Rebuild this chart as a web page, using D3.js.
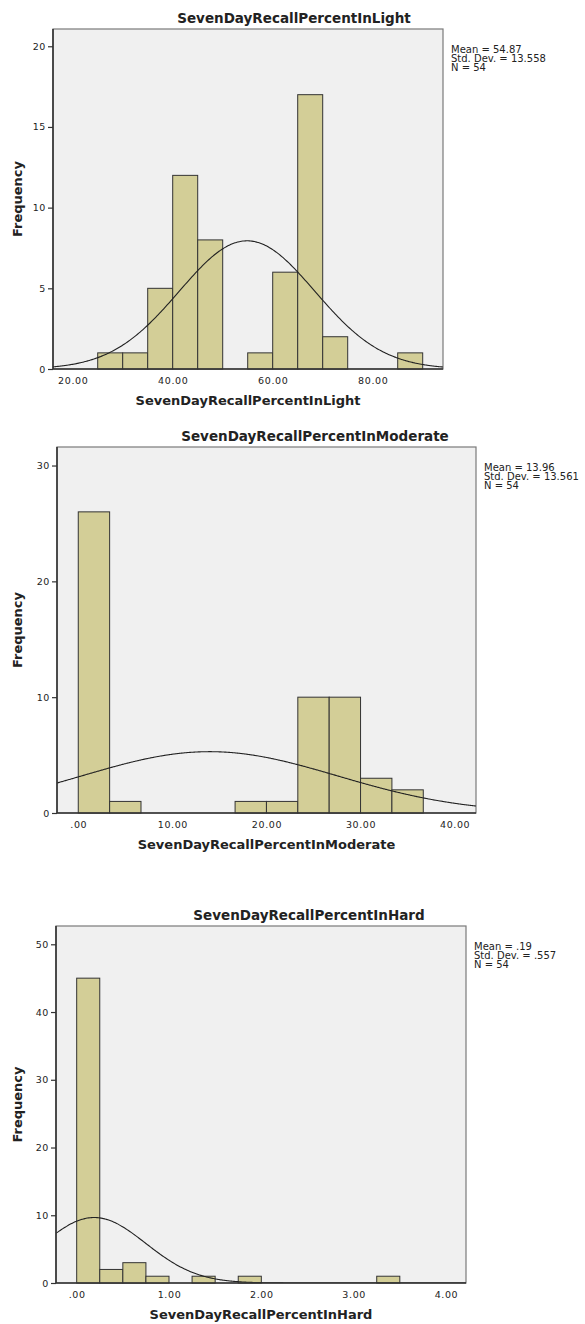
<!DOCTYPE html>
<html>
<head>
<meta charset="utf-8">
<script src="https://cdn.jsdelivr.net/npm/d3@7"></script>
<style>
  html, body { margin: 0; padding: 0; background: #fff; }
  svg { display: block; }
  text { font-family: "DejaVu Sans", sans-serif; fill: #222; }
</style>
</head>
<body>
<svg id="chart" width="585" height="1324"></svg>
<script>
// ─── Data ────────────────────────────────────────────────────────────────────
const variables = ['SevenDayRecallPercentInLight', 'SevenDayRecallPercentInModerate', 'SevenDayRecallPercentInHard'];

const lightBinStart = 25, lightBinWidth = 5;
const lightCounts = [1, 1, 5, 12, 8, 0, 1, 6, 17, 2, 0, 0, 1];

const moderateBinStart = 0, moderateBinWidth = 10 / 3;
const moderateCounts = [26, 1, 0, 0, 0, 1, 1, 10, 10, 3, 2];

const hardBinStart = 0, hardBinWidth = 0.25;
const hardCounts = [45, 2, 3, 1, 0, 1, 0, 1, 0, 0, 0, 0, 0, 1];

const means = [54.87, 13.96, 0.19];
const stdDevs = [13.558, 13.561, 0.557];
const nValues = [54, 54, 54];
const meanLabels = ['54.87', '13.96', '.19'];
const sdLabels = ['13.558', '13.561', '.557'];

const xTicks = [[20, 40, 60, 80], [0, 10, 20, 30, 40], [0, 1, 2, 3, 4]];
const yTicks = [[0, 5, 10, 15, 20], [0, 10, 20, 30], [0, 10, 20, 30, 40, 50]];

// ─── Layout (pixel frames + axis extents of each panel) ──────────────────────
const panels = [
  { box: { l: 53, t: 29, r: 443, b: 369 }, xDom: [16.06, 94.06], yMax: 21.07, titleX: 294,
    start: lightBinStart, width: lightBinWidth, counts: lightCounts },
  { box: { l: 57, t: 447, r: 476, b: 813 }, xDom: [-2.26, 42.27], yMax: 31.6, titleX: 315,
    start: moderateBinStart, width: moderateBinWidth, counts: moderateCounts },
  { box: { l: 56, t: 926, r: 466, b: 1283 }, xDom: [-0.224, 4.217], yMax: 52.7, titleX: 309,
    start: hardBinStart, width: hardBinWidth, counts: hardCounts }
];

const BAR_FILL = '#d3ce97';
const PLOT_BG = '#f0f0f0';

const svg = d3.select('#chart');

// SPSS-style number labels: 0.00 → ".00"
const fmt = v => d3.format('.2f')(v).replace(/^0\./, '.');

panels.forEach((p, i) => {
  const { l, t, r, b } = p.box;
  const x = d3.scaleLinear().domain(p.xDom).range([l, r]);
  const y = d3.scaleLinear().domain([0, p.yMax]).range([b, t]);
  const g = svg.append('g');

  // plot background + frame
  g.append('rect')
    .attr('x', l).attr('y', t).attr('width', r - l).attr('height', b - t)
    .attr('fill', PLOT_BG).attr('stroke', '#7a7a7a').attr('stroke-width', 1.2);

  const clipId = 'clip' + i;
  g.append('clipPath').attr('id', clipId)
    .append('rect').attr('x', l).attr('y', t).attr('width', r - l).attr('height', b - t);

  // bars
  const bins = p.counts.map((c, k) => ({ x0: p.start + k * p.width, x1: p.start + (k + 1) * p.width, c }))
    .filter(d => d.c > 0);
  g.append('g').selectAll('rect')
    .data(bins)
    .join('rect')
      .attr('x', d => x(d.x0))
      .attr('y', d => y(d.c))
      .attr('width', d => x(d.x1) - x(d.x0))
      .attr('height', d => y(0) - y(d.c))
      .attr('fill', BAR_FILL)
      .attr('stroke', '#333')
      .attr('stroke-width', 1);

  // fitted normal curve
  const mu = means[i], sd = stdDevs[i], n = nValues[i];
  const dens = v => n * p.width * Math.exp(-0.5 * ((v - mu) / sd) ** 2) / (sd * Math.sqrt(2 * Math.PI));
  const xs = d3.range(0, 301).map(k => p.xDom[0] + (p.xDom[1] - p.xDom[0]) * k / 300);
  g.append('path')
    .datum(xs)
    .attr('clip-path', `url(#${clipId})`)
    .attr('fill', 'none')
    .attr('stroke', '#222')
    .attr('stroke-width', 1.1)
    .attr('d', d3.line().x(v => x(v)).y(v => y(dens(v))).curve(d3.curveBasis));

  // axes
  const yAxis = g.append('g')
    .attr('transform', `translate(${l},0)`)
    .call(d3.axisLeft(y).tickValues(yTicks[i]).tickSize(5).tickPadding(2).tickFormat(d3.format('d')));
  const xAxis = g.append('g')
    .attr('transform', `translate(0,${b})`)
    .call(d3.axisBottom(x).tickValues(xTicks[i]).tickSize(0).tickPadding(8).tickFormat(fmt));
  [yAxis, xAxis].forEach(a => {
    a.select('.domain').attr('stroke', '#333').attr('stroke-width', 1.6);
    a.selectAll('.tick line').attr('stroke', '#333').attr('stroke-width', 1.2);
    a.selectAll('.tick text')
      .attr('font-family', '"DejaVu Sans", sans-serif')
      .attr('font-size', 9.5)
      .attr('letter-spacing', 0.6)
      .attr('fill', '#333');
  });
  xAxis.select('.domain').attr('d', `M${l},0H${r}`);
  yAxis.select('.domain').attr('d', `M0,${b}V${t}`);

  // title
  g.append('text')
    .attr('x', p.titleX).attr('y', t - 6)
    .attr('text-anchor', 'middle')
    .attr('font-weight', 'bold').attr('font-size', 13.5)
    .text(variables[i]);

  // x label
  g.append('text')
    .attr('x', (l + r) / 2).attr('y', b + 36)
    .attr('text-anchor', 'middle')
    .attr('font-weight', 'bold').attr('font-size', 13)
    .text(variables[i]);

  // y label
  g.append('text')
    .attr('transform', `translate(22,${(t + b) / 2}) rotate(-90)`)
    .attr('text-anchor', 'middle')
    .attr('font-weight', 'bold').attr('font-size', 13)
    .text('Frequency');

  // summary stats
  const stats = [`Mean = ${meanLabels[i]}`, `Std. Dev. = ${sdLabels[i]}`, `N = ${nValues[i]}`];
  g.append('g').selectAll('text')
    .data(stats)
    .join('text')
      .attr('x', r + 8)
      .attr('y', (d, k) => t + 24 + k * 9)
      .attr('font-size', 10)
      .text(d => d);
});
</script>
</body>
</html>
